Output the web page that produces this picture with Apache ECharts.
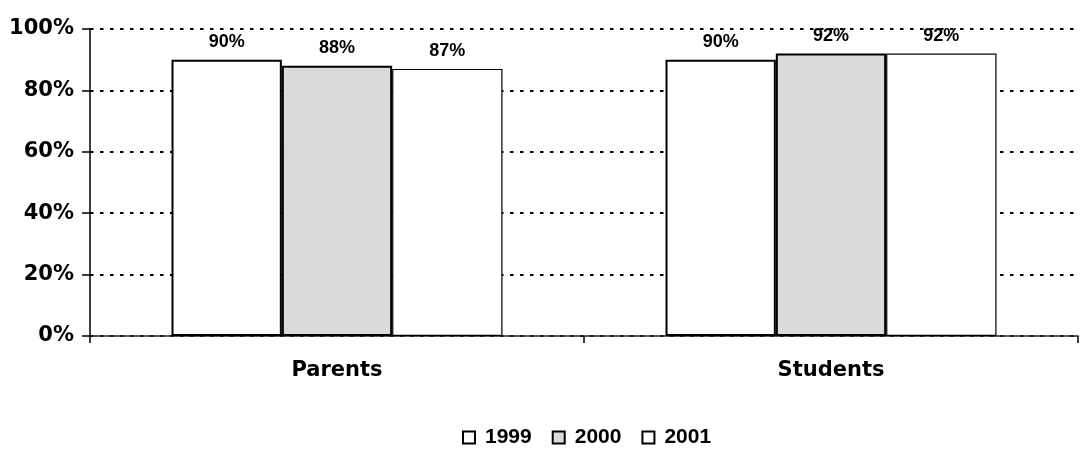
<!DOCTYPE html>
<html>
<head>
<meta charset="utf-8">
<title>Parents and Students, 1999–2001</title>
<script src="https://cdn.jsdelivr.net/npm/echarts@6/dist/echarts.min.js"></script>
<style>
  html, body { margin: 0; padding: 0; background: #ffffff; }
  #chart { width: 1082px; height: 458px; }
</style>
</head>
<body>
<div id="chart"></div>
<script>
// Survey groups along the x axis
const categories = ['Parents', 'Students'];

// Percentage per group, one array per year
const years = ['1999', '2000', '2001'];
const values1999 = [90, 90];
const values2000 = [88, 92];
const values2001 = [87, 92];

// Value-axis ticks (percent)
const yMin = 0;
const yMax = 100;
const yStep = 20;

const seriesData = [values1999, values2000, values2001];
const fills = ['#ffffff', '#dadada', '#ffffff'];
const borders = [2, 2, 1.2];

const chart = echarts.init(document.getElementById('chart'), null, { renderer: 'canvas' });

const boldFont = 'DejaVu Sans';
const labelFont = '"Liberation Sans", Arial, sans-serif';

chart.setOption({
  animation: false,
  backgroundColor: '#ffffff',
  grid: { left: 90, right: 4, top: 29, bottom: 122 },
  legend: {
    data: years,
    bottom: 5,
    left: 457,
    itemWidth: 12,
    itemHeight: 12,
    itemGap: 20,
    icon: 'rect',
    textStyle: {
      fontFamily: '"Liberation Sans", Arial, sans-serif',
      fontWeight: 'bold',
      fontSize: 21,
      color: '#000',
      padding: [0, 0, 0, 5]
    }
  },
  xAxis: {
    type: 'category',
    data: categories,
    axisLine: { show: true, lineStyle: { color: '#222', width: 1.5 } },
    axisTick: { show: true, length: 7, interval: 0, lineStyle: { color: '#000', width: 1.5 } },
    axisLabel: {
      margin: 24,
      fontFamily: boldFont,
      fontWeight: 'bold',
      fontSize: 21,
      color: '#000'
    },
    splitLine: { show: false }
  },
  yAxis: {
    type: 'value',
    min: yMin,
    max: yMax,
    interval: yStep,
    axisLine: { show: true, lineStyle: { color: '#000', width: 1.5 } },
    axisTick: { show: true, inside: false, length: 8, lineStyle: { color: '#000', width: 1.5 } },
    axisLabel: {
      margin: 16,
      formatter: '{value}%',
      fontFamily: boldFont,
      fontWeight: 'bold',
      fontSize: 21,
      color: '#000'
    },
    splitLine: {
      show: true,
      lineStyle: { color: '#000', width: 2, type: [3.5, 6.5] }
    }
  },
  series: years.map((name, i) => ({
    name: name,
    type: 'bar',
    data: seriesData[i],
    barGap: '0%',
    barCategoryGap: '33%',
    itemStyle: {
      color: fills[i],
      borderColor: '#000',
      borderWidth: borders[i]
    },
    label: {
      show: true,
      position: 'top',
      distance: 9,
      formatter: '{c}%',
      fontFamily: labelFont,
      fontWeight: 'bold',
      fontSize: 18,
      color: '#000'
    }
  }))
});
</script>
</body>
</html>
